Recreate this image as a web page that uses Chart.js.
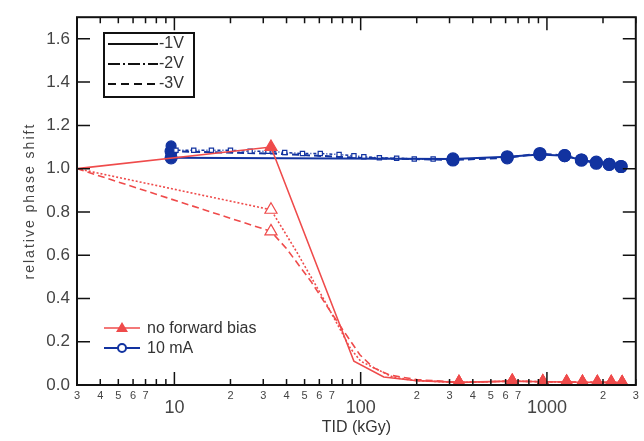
<!DOCTYPE html>
<html>
<head>
<meta charset="utf-8">
<script src="https://cdn.jsdelivr.net/npm/chart.js@4/dist/chart.umd.min.js"></script>
<style>
  body { margin: 0; background: #fff; }
  canvas { display: block; }
</style>
</head>
<body>
<canvas id="plot" width="644" height="441"></canvas>
<script>
// values (dose in kGy, relative phase shift)
const redDose1 = [3, 33, 92, 133, 200, 337, 651, 951, 1276, 1552, 1864, 2213, 2532];
const redShift1 = [1.0, 1.1, 0.11, 0.037, 0.02, 0.012, 0.018, 0.015, 0.014, 0.013, 0.012, 0.012, 0.011];
const redDose2 = [3, 33, 45, 64, 88, 100, 150, 200, 337, 651, 951, 1276, 1552, 1864, 2213, 2532];
const redShift2 = [1.0, 0.81, 0.62, 0.39, 0.17, 0.11, 0.035, 0.02, 0.012, 0.018, 0.015, 0.014, 0.013, 0.012, 0.012, 0.011];
const redDose3 = [3, 33, 40, 54, 70, 99, 117, 143, 200, 337, 651, 951, 1276, 1552, 1864, 2213, 2532];
const redShift3 = [1.0, 0.71, 0.63, 0.48, 0.33, 0.14, 0.08, 0.046, 0.025, 0.012, 0.018, 0.015, 0.014, 0.013, 0.012, 0.012, 0.011];

const blueDose1 = [9.6, 313, 612, 917, 1245, 1532, 1841, 2159, 2500];
const blueShift1 = [1.05, 1.045, 1.055, 1.065, 1.06, 1.04, 1.025, 1.02, 1.01];
const blueDose2 = [9.6, 10.2, 12.7, 15.8, 20, 25.5, 31.8, 39.1, 48.7, 60.7, 76.6, 92, 104, 126, 156, 194, 245, 313];
const blueShift2 = [1.105, 1.085, 1.085, 1.085, 1.085, 1.08, 1.08, 1.075, 1.07, 1.07, 1.065, 1.06, 1.055, 1.05, 1.048, 1.045, 1.045, 1.045];
const blueDose3 = [9.6, 33, 100, 313, 612, 917, 1245, 1532, 1841, 2159, 2500];
const blueShift3 = [1.08, 1.07, 1.05, 1.04, 1.05, 1.07, 1.06, 1.04, 1.03, 1.02, 1.01];

const xTicks = [3, 4, 5, 6, 7, 8, 9, 10, 20, 30, 40, 50, 60, 70, 80, 90, 100,
  200, 300, 400, 500, 600, 700, 800, 900, 1000, 2000, 3000];
const xTickLabels = ["3", "4", "5", "6", "7", "", "", ["", "10"], "2", "3", "4", "5", "6", "7", "", "", ["", "100"],
  "2", "3", "4", "5", "6", "7", "", "", ["", "1000"], "2", "3"];
const yTicks = [0, 0.2, 0.4, 0.6, 0.8, 1.0, 1.2, 1.4, 1.6];
const yTickLabels = ["0.0", "0.2", "0.4", "0.6", "0.8", "1.0", "1.2", "1.4", "1.6"];

const RED = "#ef4b4b";
const BLUE = "#1233a0";
const FONT = "'Liberation Sans', Arial, sans-serif";

function pts(dose, shift) {
  return dose.map((d, i) => ({ x: d, y: shift[i] }));
}

// red: triangles only at 33 kGy and on the flat tail
function redSet(label, dose, shift, dash, hollowPeak) {
  return {
    label: label,
    data: pts(dose, shift),
    borderColor: RED,
    borderWidth: 1.6,
    borderDash: dash,
    pointStyle: "triangle",
    pointRadius: (c) => (c.raw.x === 33 || c.raw.x >= 300 ? 7 : 0),
    pointBackgroundColor: (c) => (hollowPeak && c.raw.x === 33 ? "#fff" : RED),
    pointBorderColor: RED,
    pointBorderWidth: 1.2,
    tension: 0,
  };
}

function blueSet(label, dose, shift, dash, squares) {
  return {
    label: label,
    data: pts(dose, shift),
    borderColor: BLUE,
    borderWidth: squares ? 1.5 : 2,
    borderDash: dash,
    pointStyle: (c) => (squares && c.index > 0 ? "rect" : "circle"),
    pointRadius: (c) => {
      if (squares) return c.index > 0 ? 3 : 5;
      return c.raw.x === 9.6 || c.raw.x >= 300 ? 6 : 0;
    },
    pointBackgroundColor: (c) => (squares && c.index > 0 ? "#fff" : BLUE),
    pointBorderColor: BLUE,
    pointBorderWidth: 1.2,
    tension: 0,
  };
}

const framePlugin = {
  id: "frame",
  afterDraw(chart) {
    const { ctx, chartArea: a, scales } = chart;
    const x = scales.x;
    const y = scales.y;
    ctx.save();

    // inward ticks on all four sides
    ctx.strokeStyle = "#111";
    ctx.lineWidth = 1.5;
    ctx.beginPath();
    xTicks.forEach((v, i) => {
      const px = x.getPixelForValue(v);
      const len = Array.isArray(xTickLabels[i]) ? 13 : 6;
      ctx.moveTo(px, a.bottom);
      ctx.lineTo(px, a.bottom - len);
      ctx.moveTo(px, a.top);
      ctx.lineTo(px, a.top + len);
    });
    yTicks.forEach((v) => {
      const py = y.getPixelForValue(v);
      ctx.moveTo(a.left, py);
      ctx.lineTo(a.left + 13, py);
      ctx.moveTo(a.right, py);
      ctx.lineTo(a.right - 13, py);
    });
    ctx.stroke();

    ctx.lineWidth = 2;
    ctx.strokeRect(a.left, a.top, a.right - a.left, a.bottom - a.top);

    // y title
    ctx.save();
    ctx.translate(30, (a.top + a.bottom) / 2);
    ctx.rotate(-Math.PI / 2);
    ctx.fillStyle = "#444";
    ctx.font = "14px " + FONT;
    ctx.letterSpacing = "2px";
    ctx.textAlign = "center";
    ctx.textBaseline = "middle";
    ctx.fillText("relative phase shift", 0, 0);
    ctx.restore();

    // line style legend
    ctx.lineWidth = 2;
    ctx.strokeStyle = "#111";
    ctx.strokeRect(104, 33, 90, 64);
    const styles = [[], [12, 3, 2, 3], [8, 5]];
    const names = ["-1V", "-2V", "-3V"];
    ctx.font = "16px " + FONT;
    ctx.textBaseline = "middle";
    ctx.fillStyle = "#333";
    styles.forEach((d, i) => {
      const ly = 44 + i * 20;
      ctx.setLineDash(d);
      ctx.beginPath();
      ctx.moveTo(108, ly);
      ctx.lineTo(158, ly);
      ctx.stroke();
      ctx.setLineDash([]);
      ctx.fillText(names[i], 159, ly);
    });

    // series legend
    ctx.lineWidth = 1.5;
    ctx.strokeStyle = RED;
    ctx.beginPath();
    ctx.moveTo(104, 328);
    ctx.lineTo(140, 328);
    ctx.stroke();
    ctx.fillStyle = RED;
    ctx.beginPath();
    ctx.moveTo(122, 322);
    ctx.lineTo(128, 332);
    ctx.lineTo(116, 332);
    ctx.closePath();
    ctx.fill();

    ctx.lineWidth = 2;
    ctx.strokeStyle = BLUE;
    ctx.beginPath();
    ctx.moveTo(104, 348);
    ctx.lineTo(140, 348);
    ctx.stroke();
    ctx.fillStyle = "#fff";
    ctx.beginPath();
    ctx.arc(122, 348, 4, 0, Math.PI * 2);
    ctx.fill();
    ctx.stroke();

    ctx.fillStyle = "#333";
    ctx.font = "16px " + FONT;
    ctx.fillText("no forward bias", 147, 329);
    ctx.fillText("10 mA", 147, 349);
    ctx.restore();
  },
};

new Chart(document.getElementById("plot"), {
  type: "line",
  data: {
    datasets: [
      redSet("no forward bias -1V", redDose1, redShift1, [], false),
      redSet("no forward bias -2V", redDose2, redShift2, [2, 2], true),
      redSet("no forward bias -3V", redDose3, redShift3, [7, 4], true),
      blueSet("10 mA -1V", blueDose1, blueShift1, [], false),
      blueSet("10 mA -2V", blueDose2, blueShift2, [3, 2, 1, 2], true),
      blueSet("10 mA -3V", blueDose3, blueShift3, [7, 4], false),
    ],
  },
  options: {
    responsive: false,
    animation: false,
    devicePixelRatio: 1,
    layout: { padding: { top: 12, right: 2, left: 0, bottom: 0 } },
    plugins: { legend: { display: false }, tooltip: { enabled: false } },
    scales: {
      x: {
        type: "logarithmic",
        min: 3,
        max: 3000,
        grid: { display: false, drawTicks: false },
        border: { display: false },
        afterBuildTicks: (scale) => {
          scale.ticks = xTicks.map((v) => ({ value: v }));
        },
        afterFit: (scale) => {
          scale.height = 56;
        },
        ticks: {
          autoSkip: false,
          maxRotation: 0,
          padding: 5,
          color: "#444",
          callback: (v, i) => xTickLabels[i],
          font: (c) =>
            Array.isArray(xTickLabels[c.index])
              ? { family: FONT, size: 18, lineHeight: 0.67 }
              : { family: FONT, size: 11, lineHeight: 1.09 },
        },
        title: {
          display: true,
          text: "TID (kGy)",
          color: "#333",
          font: { family: FONT, size: 16 },
          padding: { top: 0, bottom: 4 },
        },
      },
      y: {
        min: 0,
        max: 1.7,
        grid: { display: false, drawTicks: false },
        border: { display: false },
        afterBuildTicks: (scale) => {
          scale.ticks = yTicks.map((v) => ({ value: v }));
        },
        afterFit: (scale) => {
          scale.width = 77;
        },
        ticks: {
          padding: 7,
          color: "#444",
          callback: (v, i) => yTickLabels[i],
          font: { family: FONT, size: 17 },
        },
      },
    },
  },
  plugins: [framePlugin],
});
</script>
</body>
</html>
